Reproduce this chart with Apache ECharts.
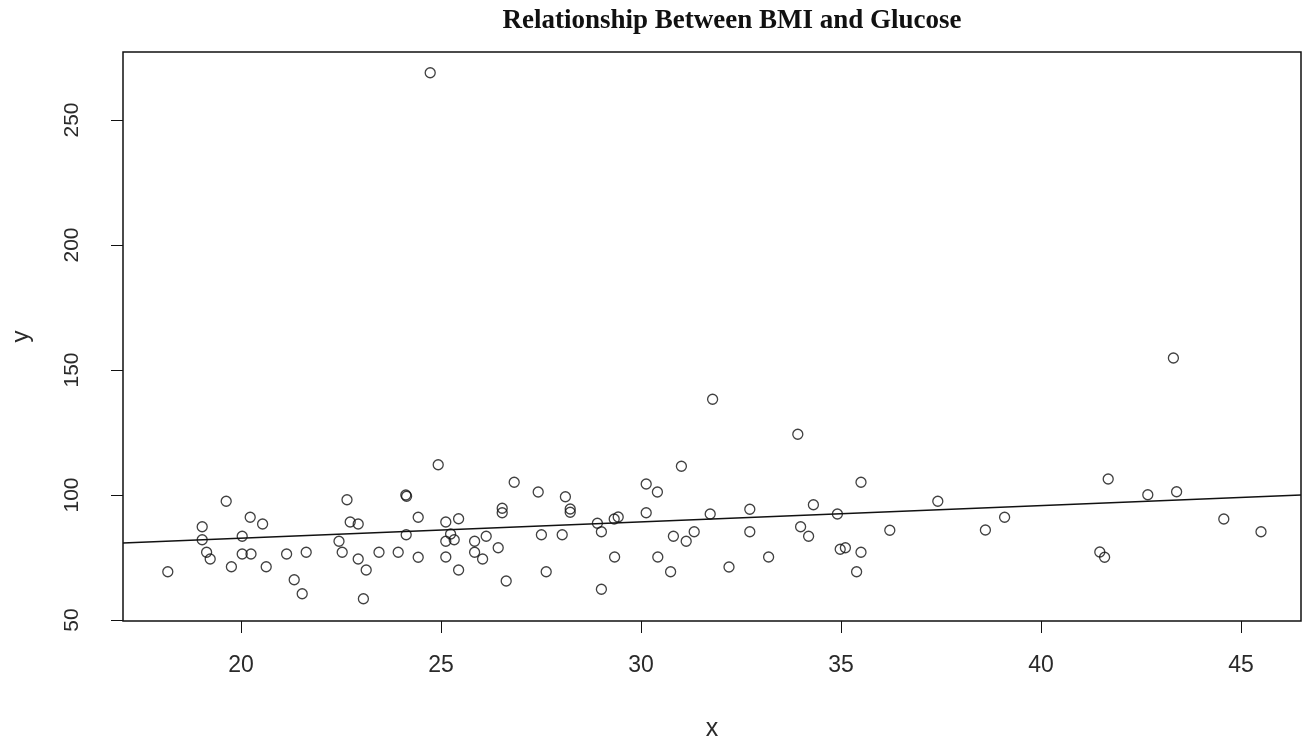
<!DOCTYPE html>
<html>
<head>
<meta charset="utf-8">
<script src="https://cdn.jsdelivr.net/npm/echarts@6/dist/echarts.min.js"></script>
<style>
  html, body {margin: 0; padding: 0; background: #fff;}
  #main {width: 1304px; height: 740px;}
</style>
</head>
<body>
<div id="main"></div>
<script>
const bmi = [
  18.17, 19.03, 19.03, 19.14, 19.23, 19.63, 19.76, 20.03, 20.03, 20.23,
  20.25, 20.54, 20.63, 21.14, 21.33, 21.53, 21.63, 22.45, 22.53, 22.65,
  22.73, 22.93, 22.93, 23.06, 23.13, 23.45, 23.93, 24.12, 24.14, 24.13,
  24.43, 24.43, 24.73, 24.93, 25.12, 25.12, 25.12, 25.24, 25.33, 25.44,
  25.44, 25.84, 25.84, 26.04, 26.13, 26.43, 26.53, 26.53, 26.63, 26.83,
  27.43, 27.51, 27.63, 28.03, 28.11, 28.23, 28.23, 28.91, 29.01, 29.01,
  29.33, 29.43, 29.34, 30.13, 30.13, 30.41, 30.42, 30.74, 30.81, 31.01,
  31.13, 31.33, 31.73, 31.79, 32.2, 32.72, 32.72, 33.19, 33.92, 33.99,
  34.19, 34.31, 34.91, 34.98, 35.11, 35.39, 35.5, 35.5, 36.22, 37.42,
  38.61, 39.09, 41.47, 41.59, 41.68, 42.67, 43.31, 43.39, 44.57, 45.5
]
const glucose = [
  69.3, 87.3, 82.1, 77.1, 74.4, 97.5, 71.3, 83.5, 76.4, 91.1,
  76.4, 88.4, 71.3, 76.4, 66.1, 60.5, 77.1, 81.5, 77.1, 98.1,
  89.2, 88.4, 74.4, 58.5, 70.0, 77.1, 77.1, 100.0, 99.5, 84.1,
  91.1, 75.1, 268.9, 112.1, 89.2, 81.5, 75.2, 84.4, 82.1, 90.5,
  70.0, 81.5, 77.1, 74.4, 83.5, 78.9, 94.7, 92.9, 65.6, 105.1,
  101.2, 84.1, 69.3, 84.1, 99.3, 94.4, 93.1, 88.7, 85.3, 62.3,
  90.4, 91.2, 75.2, 104.4, 92.9, 101.2, 75.2, 69.3, 83.5, 111.5,
  81.5, 85.3, 92.4, 138.3, 71.2, 94.3, 85.3, 75.2, 124.3, 87.3,
  83.5, 96.1, 92.4, 78.3, 78.9, 69.3, 105.1, 77.1, 85.9, 97.5,
  86.0, 91.1, 77.2, 75.1, 106.4, 100.1, 154.8, 101.3, 90.4, 85.3
]
const xTicks = [20, 25, 30, 35, 40, 45]
const yTicks = [50, 100, 150, 200, 250]
const xRange = [17.05, 46.5]
const yRange = [49.6, 277.2]
const fitIntercept = 69.7
const fitSlope = 0.652

var points = bmi.map((v, i) => [v, glucose[i]])
var fitLine = xRange.map(v => [v, fitIntercept + fitSlope * v])

var chart = echarts.init(document.getElementById('main'))
var labelFont = {fontFamily: 'Liberation Sans', color: '#2a2a2a'}

chart.setOption({
  animation: false,
  title: {
    text: 'Relationship Between BMI and Glucose',
    left: 727,
    top: 3,
    textAlign: 'center',
    textStyle: {fontFamily: 'Liberation Serif', fontWeight: 'bold', fontSize: 27, color: '#111'}
  },
  grid: {
    left: 123, top: 52, right: 3, bottom: 119,
    outerBoundsMode: 'none',
    show: true, borderColor: '#111', borderWidth: 1.5, backgroundColor: '#fff'
  },
  xAxis: {
    type: 'value',
    min: xRange[0], max: xRange[1],
    name: 'x',
    nameLocation: 'middle',
    nameGap: 96,
    nameTextStyle: Object.assign({fontSize: 25}, labelFont),
    splitLine: {show: false},
    axisLine: {show: false},
    axisTick: {show: true, length: 12, customValues: xTicks, lineStyle: {color: '#111', width: 1}},
    axisLabel: Object.assign({customValues: xTicks, margin: 33, fontSize: 23}, labelFont)
  },
  yAxis: {
    type: 'value',
    min: yRange[0], max: yRange[1],
    name: 'y',
    nameLocation: 'middle',
    nameGap: 90,
    nameTextStyle: Object.assign({fontSize: 24}, labelFont),
    splitLine: {show: false},
    axisLine: {show: false},
    axisTick: {show: true, length: 12, customValues: yTicks, lineStyle: {color: '#111', width: 1}},
    axisLabel: Object.assign({customValues: yTicks, rotate: 90, margin: 40, fontSize: 21}, labelFont)
  },
  series: [
    {
      type: 'scatter',
      data: points,
      symbol: 'circle',
      symbolSize: 10,
      itemStyle: {color: 'rgba(0,0,0,0)', borderColor: '#111', borderWidth: 1.3}
    },
    {
      type: 'line',
      data: fitLine,
      showSymbol: false,
      lineStyle: {color: '#111', width: 1.5}
    }
  ]
})
</script>
</body>
</html>
